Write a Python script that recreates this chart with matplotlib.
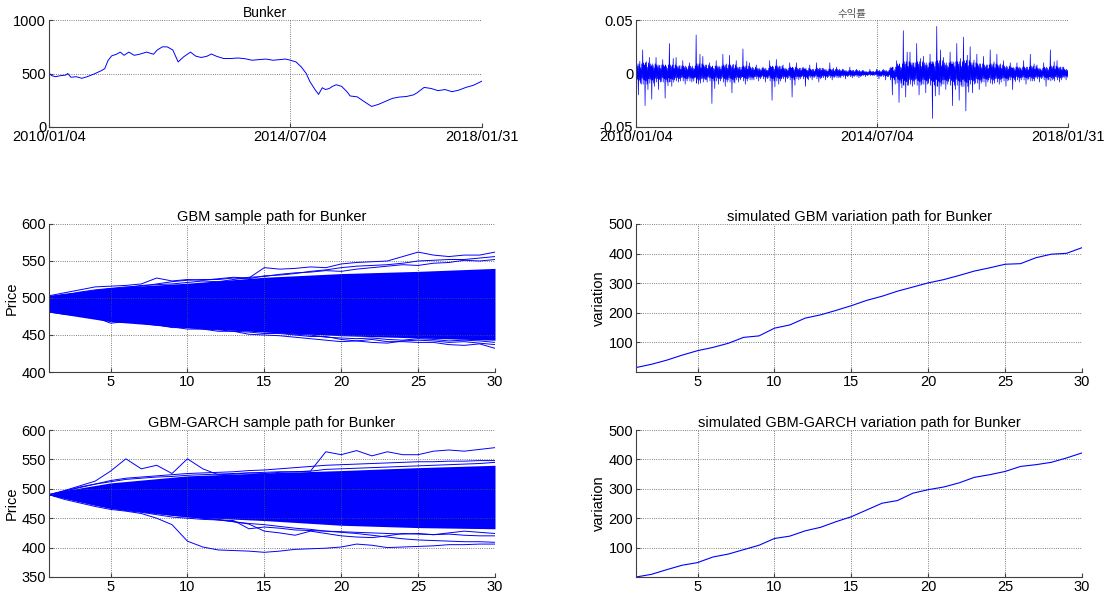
import numpy as np
import matplotlib
matplotlib.use('Agg')
import matplotlib.pyplot as plt

plt.rcParams['font.family'] = ['Liberation Sans', 'DejaVu Sans']
plt.rcParams['font.size'] = 10.5

# ---- Bunker price (x in fractional years) ----
price_t = [2010.00, 2010.05, 2010.12, 2010.22, 2010.31, 2010.35, 2010.41, 2010.51, 2010.61, 2010.71,
           2010.84, 2010.97, 2011.04, 2011.10, 2011.17, 2011.26, 2011.33, 2011.40, 2011.49, 2011.59,
           2011.69, 2011.82, 2011.95, 2012.02, 2012.12, 2012.21, 2012.31, 2012.41, 2012.51, 2012.64,
           2012.74, 2012.84, 2012.94, 2013.03, 2013.13, 2013.26, 2013.39, 2013.53, 2013.66, 2013.79,
           2013.92, 2014.05, 2014.18, 2014.31, 2014.41, 2014.50, 2014.61, 2014.71, 2014.80, 2014.87,
           2014.97, 2015.03, 2015.10, 2015.16, 2015.23, 2015.29, 2015.36, 2015.46, 2015.56, 2015.62,
           2015.75, 2015.88, 2016.02, 2016.15, 2016.28, 2016.41, 2016.54, 2016.67, 2016.80, 2016.87,
           2017.00, 2017.13, 2017.26, 2017.39, 2017.52, 2017.65, 2017.78, 2017.92, 2018.08]
price = [505, 480, 470, 480, 485, 500, 465, 470, 455, 470,
         495, 525, 545, 620, 665, 680, 700, 670, 700, 670,
         680, 700, 680, 720, 750, 748, 720, 608, 655, 700,
         662, 650, 660, 682, 660, 640, 640, 645, 638, 624,
         630, 635, 624, 630, 635, 625, 608, 560, 500, 423,
         345, 305, 367, 350, 360, 380, 395, 380, 330, 290,
         282, 238, 192, 212, 240, 268, 280, 285, 300, 320,
         370, 360, 340, 350, 330, 345, 370, 390, 429]

# ---- daily returns: high / low spikes and typical band per 1/8 year ----
ret_t0 = 2010.0
ret_hi = [0.023, 0.022, 0.015, 0.015, 0.013, 0.028, 0.015, 0.012, 0.010, 0.036, 0.016, 0.010, 0.012,
          0.018, 0.017, 0.012, 0.023, 0.010, 0.008, 0.006, 0.012, 0.013, 0.008, 0.010, 0.010, 0.006,
          0.008, 0.010, 0.005, 0.010, 0.006, 0.004, 0.006, 0.004, 0.003, 0.004, 0.004, 0.004, 0.005,
          0.012, 0.040, 0.020, 0.028, 0.016, 0.018, 0.044, 0.015, 0.020, 0.028, 0.034, 0.025, 0.018,
          0.016, 0.022, 0.018, 0.012, 0.010, 0.010, 0.012, 0.018, 0.008, 0.010, 0.022, 0.012, 0.006]
ret_lo = [-0.020, -0.030, -0.024, -0.015, -0.023, -0.012, -0.008, -0.010, -0.008, -0.010, -0.006,
          -0.028, -0.010, -0.012, -0.018, -0.008, -0.010, -0.006, -0.007, -0.008, -0.025, -0.010,
          -0.008, -0.022, -0.006, -0.012, -0.006, -0.008, -0.006, -0.006, -0.004, -0.005, -0.004,
          -0.004, -0.003, -0.002, -0.005, -0.006, -0.020, -0.027, -0.022, -0.012, -0.020, -0.018,
          -0.042, -0.020, -0.015, -0.030, -0.025, -0.035, -0.018, -0.015, -0.012, -0.010, -0.010,
          -0.012, -0.015, -0.008, -0.010, -0.007, -0.008, -0.012, -0.006, -0.008, -0.006]
ret_core = [0.009, 0.010, 0.009, 0.008, 0.008, 0.008, 0.007, 0.007, 0.007, 0.009, 0.008, 0.007, 0.007,
            0.008, 0.008, 0.006, 0.007, 0.006, 0.005, 0.005, 0.007, 0.007, 0.005, 0.006, 0.005, 0.005,
            0.004, 0.005, 0.004, 0.004, 0.004, 0.003, 0.003, 0.003, 0.002, 0.002, 0.003, 0.003, 0.006,
            0.009, 0.011, 0.010, 0.011, 0.010, 0.011, 0.012, 0.010, 0.011, 0.011, 0.012, 0.010, 0.009,
            0.008, 0.009, 0.008, 0.007, 0.006, 0.006, 0.006, 0.007, 0.005, 0.006, 0.007, 0.006, 0.004]

date_ticks = [2010.0, 2014.5, 2018.08]
date_labels = ['2010/01/04', '2014/07/04', '2018/01/31']

# ---- GBM sample paths ----
steps = list(range(1, 31))
gbm_band_x = [1, 5, 10, 15, 20, 25, 30]
gbm_band_hi = [503, 514, 520, 528, 533, 536, 540]
gbm_band_lo = [481, 468, 460, 454, 449, 446, 443]
gbm_paths = [
    [503, 507, 511, 515, 516, 517, 519, 527, 523, 525, 524, 526, 528, 527, 541, 539, 540, 542, 541, 546,
     548, 549, 550, 556, 562, 558, 556, 558, 558, 562],
    [500, 504, 508, 511, 513, 515, 516, 519, 522, 524, 525, 525, 527, 526, 530, 531, 533, 536, 538, 541,
     543, 544, 545, 547, 550, 551, 552, 552, 554, 556],
    [502, 505, 507, 510, 512, 514, 517, 518, 519, 521, 523, 522, 525, 528, 529, 532, 534, 535, 537, 536,
     539, 541, 543, 545, 544, 547, 548, 551, 550, 552],
    [481, 478, 476, 474, 466, 468, 466, 463, 461, 458, 458, 457, 455, 454, 452, 452, 450, 448, 448, 444,
     442, 444, 441, 441, 440, 440, 437, 436, 438, 432],
    [482, 479, 476, 473, 470, 468, 467, 464, 460, 460, 458, 455, 455, 451, 450, 449, 447, 445, 443, 441,
     442, 440, 439, 442, 443, 442, 440, 441, 439, 437],
    [483, 480, 478, 475, 472, 470, 469, 466, 464, 462, 461, 459, 457, 456, 455, 453, 451, 450, 447, 446,
     445, 446, 444, 443, 445, 444, 442, 443, 442, 440],
]

# ---- GBM-GARCH sample paths ----
garch_band_x = [1, 2, 5, 10, 15, 20, 25, 30]
garch_band_hi = [490, 497, 510, 522, 527, 531, 536, 540]
garch_band_lo = [490, 484, 467, 452, 446, 438, 434, 432]
garch_paths = [
    [490, 497, 505, 513, 530, 551, 534, 540, 526, 551, 534, 524, 525, 527, 526, 528, 529, 530, 533, 534,
     535, 536, 537, 538, 539, 540, 541, 542, 543, 545],
    [490, 496, 503, 508, 512, 516, 518, 520, 521, 523, 524, 525, 526, 527, 528, 529, 529, 530, 563, 558,
     565, 556, 563, 558, 558, 564, 566, 564, 567, 570],
    [490, 482, 476, 470, 465, 462, 458, 450, 439, 411, 401, 396, 395, 394, 392, 394, 397, 398, 399, 401,
     406, 404, 400, 401, 402, 403, 405, 405, 406, 406],
    [490, 484, 478, 472, 467, 463, 460, 456, 452, 450, 448, 447, 446, 432, 435, 433, 430, 429, 428, 427,
     426, 425, 424, 423, 424, 422, 423, 421, 420, 420],
    [490, 485, 479, 474, 468, 465, 461, 458, 455, 453, 450, 448, 444, 440, 428, 425, 421, 428, 424, 420,
     418, 417, 420, 424, 423, 422, 425, 428, 426, 424],
    [490, 485, 480, 476, 471, 467, 464, 460, 457, 453, 450, 447, 444, 441, 439, 436, 433, 431, 428, 426,
     424, 421, 418, 415, 413, 412, 411, 410, 410, 409],
    [490, 496, 502, 508, 514, 518, 520, 522, 524, 526, 527, 528, 529, 531, 532, 534, 536, 538, 540, 541,
     542, 543, 544, 545, 546, 546, 547, 547, 548, 548],
]

# ---- simulated variation paths ----
gbm_var = [15, 26, 40, 57, 72, 83, 97, 117, 122, 148, 159, 182, 193, 208, 224, 242, 256, 273, 287, 301,
           312, 326, 341, 352, 364, 366, 386, 398, 401, 420]
garch_var = [0, 9, 25, 40, 49, 68, 78, 93, 108, 131, 139, 157, 169, 188, 205, 228, 251, 260, 285, 297,
             306, 320, 339, 348, 359, 376, 382, 390, 405, 422]

W, H = 1108, 597
fig = plt.figure(figsize=(W / 100, H / 100), dpi=100)


def make_ax(x0, y_bottom, w, h):
    ax = fig.add_axes([x0 / W, (H - y_bottom) / H, w / W, h / H])
    for s in ['top', 'right']:
        ax.spines[s].set_visible(False)
    for s in ['left', 'bottom']:
        ax.spines[s].set_color('#404040')
        ax.spines[s].set_linewidth(0.8)
    ax.tick_params(direction='in', length=3, color='#404040', labelsize=10.5, pad=2)
    ax.grid(True, linestyle=':', color='#555555', linewidth=0.6)
    return ax


blue = '#0000ff'

# top-left: price
ax1 = make_ax(49, 127, 433, 107)
ax1.plot(price_t, price, color=blue, lw=0.7)
ax1.set_xlim(2010.0, 2018.08)
ax1.set_ylim(0, 1000)
ax1.set_yticks([0, 500, 1000])
ax1.set_xticks(date_ticks)
ax1.set_xticklabels(date_labels)
ax1.set_title('Bunker', fontsize=10, pad=2)

# top-right: returns, zig-zag between read spikes and the dense core band
ax2 = make_ax(636, 127, 432, 107)
rx, ry = [], []
step = 1 / 8
for i in range(len(ret_hi)):
    t0 = ret_t0 + i * step
    c = ret_core[i]
    vals = [ret_hi[i], -c, c, -0.6 * c, 0.8 * c, ret_lo[i], c, -0.7 * c, 0.5 * ret_hi[i], -c,
            0.6 * c, 0.5 * ret_lo[i], c, -0.5 * c]
    for k, v in enumerate(vals):
        rx.append(t0 + k * step / len(vals))
        ry.append(v)
ax2.plot(rx, ry, color=blue, lw=0.5)
ax2.set_xlim(2010.0, 2018.08)
ax2.set_ylim(-0.05, 0.05)
ax2.set_yticks([-0.05, 0, 0.05])
ax2.set_yticklabels(['-0.05', '0', '0.05'])
ax2.set_xticks(date_ticks)
ax2.set_xticklabels(date_labels)
ax2.set_title('수익률', fontsize=7.5, color='#555555', pad=2,
              family=['Noto Sans CJK KR', 'DejaVu Sans'])

# middle-left: GBM sample paths
ax3 = make_ax(49, 372, 446, 148)
ax3.fill_between(gbm_band_x, gbm_band_lo, gbm_band_hi, color=blue, lw=0)
for p in gbm_paths:
    ax3.plot(steps, p, color=blue, lw=0.7)
ax3.set_xlim(1, 30)
ax3.set_ylim(400, 600)
ax3.set_xticks([5, 10, 15, 20, 25, 30])
ax3.set_yticks([400, 450, 500, 550, 600])
ax3.set_ylabel('Price', labelpad=2)
ax3.set_title('GBM sample path for Bunker', fontsize=10.5, pad=2)

# middle-right: GBM variation
ax4 = make_ax(636, 372, 446, 148)
ax4.plot(steps, gbm_var, color=blue, lw=0.8)
ax4.set_xlim(1, 30)
ax4.set_ylim(0, 500)
ax4.set_xticks([5, 10, 15, 20, 25, 30])
ax4.set_yticks([100, 200, 300, 400, 500])
ax4.set_ylabel('variation', labelpad=2)
ax4.set_title('simulated GBM variation path for Bunker', fontsize=10.5, pad=2)

# bottom-left: GBM-GARCH sample paths
ax5 = make_ax(49, 577, 446, 147)
ax5.fill_between(garch_band_x, garch_band_lo, garch_band_hi, color=blue, lw=0)
for p in garch_paths:
    ax5.plot(steps, p, color=blue, lw=0.7)
ax5.set_xlim(1, 30)
ax5.set_ylim(350, 600)
ax5.set_xticks([5, 10, 15, 20, 25, 30])
ax5.set_yticks([350, 400, 450, 500, 550, 600])
ax5.set_ylabel('Price', labelpad=2)
ax5.set_title('GBM-GARCH sample path for Bunker', fontsize=10.5, pad=2)

# bottom-right: GBM-GARCH variation
ax6 = make_ax(636, 577, 446, 147)
ax6.plot(steps, garch_var, color=blue, lw=0.8)
ax6.set_xlim(1, 30)
ax6.set_ylim(0, 500)
ax6.set_xticks([5, 10, 15, 20, 25, 30])
ax6.set_yticks([100, 200, 300, 400, 500])
ax6.set_ylabel('variation', labelpad=2)
ax6.set_title('simulated GBM-GARCH variation path for Bunker', fontsize=10.5, pad=2)

fig.savefig('out.png', dpi=100)
